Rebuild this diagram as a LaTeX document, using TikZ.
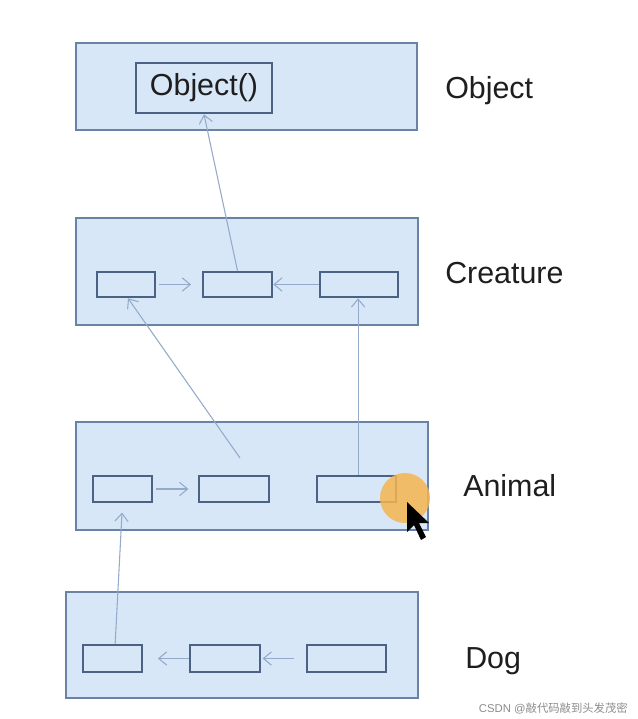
\documentclass[tikz,border=0pt]{standalone}
\usepackage{fontspec}
\setmainfont{Liberation Sans}
\newfontfamily\cjk{Noto Sans CJK SC}
\usetikzlibrary{arrows.meta}
\definecolor{boxfill}{HTML}{D8E7F7}
\definecolor{boxline}{HTML}{6A82A3}
\definecolor{innerline}{HTML}{4A6284}
\definecolor{arrcol}{HTML}{93AACA}
\definecolor{txtcol}{HTML}{1E1E1E}
\definecolor{cursorcol}{HTML}{F5B550}
\tikzset{
  outerbox/.style={draw=boxline, fill=boxfill, line width=1.7pt, minimum width={#1*0.75pt}, inner sep=0pt},
  innerbox/.style={draw=innerline, fill=boxfill, line width=1.9pt, minimum width={#1*0.75pt}, inner sep=0pt},
  arr/.style={draw=arrcol, line width=0.8pt, -{Straight Barb[length=6pt,width=10pt,line width=0.8pt]}},
  lbl/.style={anchor=base west, inner sep=0pt, text=txtcol, font=\fontsize{22.8pt}{26pt}\selectfont}
}
\begin{document}
\begin{tikzpicture}[x=0.75pt,y=-0.75pt]
\useasboundingbox[fill=white] (0,0) rectangle (638,719);
% outer boxes
\node[outerbox=341, minimum height={87*0.75pt}] (obj) at (246.5,86.5) {};
\node[outerbox=342, minimum height={107*0.75pt}] (cre) at (247,271.5) {};
\node[outerbox=352, minimum height={108*0.75pt}] (ani) at (252,476) {};
\node[outerbox=352, minimum height={106*0.75pt}] (dog) at (242,645) {};
% inner boxes
\node[innerbox=136, minimum height={50*0.75pt}, text=txtcol, font=\fontsize{22.8pt}{26pt}\selectfont] (objf) at (204,88) {Object()};
\node[innerbox=58, minimum height={25*0.75pt}] (c1) at (126,284.5) {};
\node[innerbox=69, minimum height={25*0.75pt}] (c2) at (237.5,284.5) {};
\node[innerbox=78, minimum height={25*0.75pt}] (c3) at (359,284.5) {};
\node[innerbox=59, minimum height={26*0.75pt}] (a1) at (122.5,489) {};
\node[innerbox=70, minimum height={26*0.75pt}] (a2) at (234,489) {};
\node[innerbox=79, minimum height={26*0.75pt}] (a3) at (356.5,489) {};
\node[innerbox=59, minimum height={27*0.75pt}] (d1) at (112.5,658.5) {};
\node[innerbox=70, minimum height={27*0.75pt}] (d2) at (225,658.5) {};
\node[innerbox=79, minimum height={27*0.75pt}] (d3) at (346.5,658.5) {};
% labels
\node[lbl] (lobj) at (445,98) {Object};
\node[lbl] (lcre) at (445,283) {Creature};
\node[lbl] (lani) at (463,496) {Animal};
\node[lbl] (ldog) at (465,668) {Dog};
% connectors
\draw[arr] (c2.north) -- (objf.south);
\draw[arr, shorten <=2pt, shorten >=8pt] (c1.east) -- (c2.west);
\draw[arr] (c3.west) -- (c2.east);
\coordinate (ap) at (240,458);
\draw[arr] (ap) -- ([xshift=1.5pt]c1.south);
\draw[arr] ([xshift=1.2pt]a3.north) -- ([xshift=1.2pt]a3.north |- c3.south);
\draw[arr, shorten <=2pt, shorten >=7pt] (a1.east) -- (a2.west);
\draw[arr, shorten >=7pt] ([xshift=2pt]d1.north) -- (a1.south);
\draw[arr, shorten >=11pt] (d2.west) -- (d1.east);
\draw[arr, shorten <=9pt, shorten >=1pt] (d3.west) -- (d2.east);
% cursor highlight
\fill[cursorcol, opacity=0.85] (405,498) circle[radius={25*0.75pt}];
\fill[black] (407,502) -- (407,532) -- (414,525) -- (421,540) -- (426,537) -- (419,523) -- (429,523) -- cycle;
% watermark
\node[anchor=base east, inner sep=0pt, text=black!45, font=\fontsize{8.5pt}{10pt}\selectfont] (wm) at (628,712) {CSDN @{\cjk 敲代码敲到头发茂密}};
\end{tikzpicture}
\end{document}
